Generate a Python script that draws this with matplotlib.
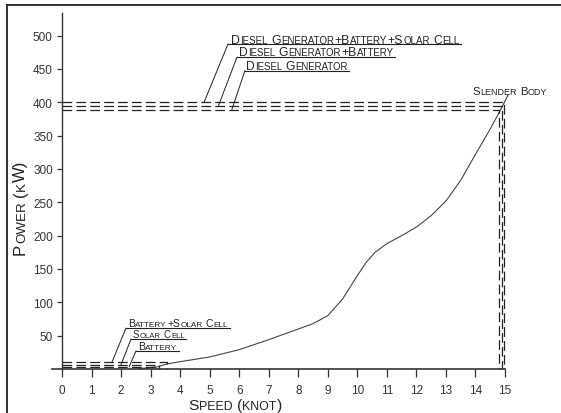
import matplotlib
matplotlib.use('Agg')
import matplotlib.pyplot as plt
from matplotlib.lines import Line2D
from matplotlib import font_manager

# ---------------- data ----------------
speed = [2.6, 3.2, 3.6, 4.0, 5.0, 6.0, 7.0, 8.0, 8.5, 9.0, 9.5, 10.0, 10.3, 10.6,
         11.0, 11.5, 12.0, 12.5, 13.0, 13.5, 14.0, 14.5, 14.9]
power = [0.5, 3, 8, 11, 18, 29, 44, 60, 68, 80, 105, 140, 160, 175,
         188, 200, 213, 230, 252, 283, 322, 360, 393]

gen_labels = ['Diesel Generator+Battery+Solar Cell', 'Diesel Generator+Battery', 'Diesel Generator']
gen_power = [400, 394, 389]
gen_speed = [14.97, 14.9, 14.78]
gen_leader_speed = [4.81, 5.29, 5.75]

low_labels = ['Battery+Solar Cell', 'Solar Cell', 'Battery']
low_power = [10, 6.5, 3]
low_speed = [3.55, 3.3, 3.15]
low_leader_speed = [1.69, 2.0, 2.27]

curve_label = 'Slender Body'
x_ticks = list(range(0, 16))
y_ticks = list(range(50, 550, 50))
x_title = 'Speed (knot)'
y_title = 'Power (kW)'

# ---------------- setup ----------------
W, H, DPI = 561, 414, 100
avail = {f.name for f in font_manager.fontManager.ttflist}
FONT = 'Liberation Sans' if 'Liberation Sans' in avail else 'DejaVu Sans'
plt.rcParams['font.family'] = FONT
plt.rcParams['lines.scale_dashes'] = False

fig = plt.figure(figsize=(W / DPI, H / DPI), dpi=DPI)
fig.patch.set_facecolor('white')
renderer = fig.canvas.get_renderer()

INK = '#222222'
AX = '#333333'


def P(x, y):
    return (x / W, 1 - y / H)


# axes: data x=0 -> px 62, x=15 -> px 505; y=0 -> px 370, top at px 14
xl, xr = -0.35, 15.0
ax_left = 62 + xl * (505 - 62) / 15
ax = fig.add_axes([ax_left / W, (H - 370) / H, (505 - ax_left) / W, (370 - 14) / H])
ax.set_xlim(xl, xr)
ax.set_ylim(0, 534)
ax.patch.set_alpha(0)
for s in ('top', 'right'):
    ax.spines[s].set_visible(False)
ax.spines['left'].set_position(('data', 0))
ax.spines['left'].set_color(AX)
ax.spines['left'].set_linewidth(1.0)
ax.spines['bottom'].set_color(AX)
ax.spines['bottom'].set_linewidth(1.2)
ax.set_xticks(x_ticks)
ax.set_yticks(y_ticks)
ax.tick_params(axis='x', direction='out', length=5.8, width=0.9, pad=5,
               labelsize=8.5, colors=AX)
ax.tick_params(axis='y', direction='out', length=3.6, width=0.9, pad=3,
               labelsize=8.5, colors=AX)

# curve
ax.plot(speed, power, color='#444444', lw=0.8, solid_joinstyle='round')

DASH = (7.0, 3.0)
for V, Pw in zip(gen_speed, gen_power):
    ax.plot([0, V, V], [Pw, Pw, 0], color=INK, lw=0.9, dashes=DASH, clip_on=False)
for V, Pw in zip(low_speed, low_power):
    ax.plot([0, V, V], [Pw, Pw, 0], color=INK, lw=0.9, dashes=DASH, clip_on=False)


# ---------------- small-caps text helper ----------------
def runs_of(s):
    runs = []
    for ch in s:
        if ch == ' ':
            kind = ' '
        elif ch.islower():
            kind = 's'
        else:
            kind = 'B'
        if runs and runs[-1][0] == kind and kind != ' ':
            runs[-1][1] += ch.upper()
        else:
            runs.append([kind, ch.upper()])
    return runs


def sc_text(x, y, s, big, target=None, ratio=0.8, rotation=0, color=INK):
    runs = runs_of(s)

    def build(scale):
        arts = []
        d = 0.0
        for kind, txt in runs:
            size = big * scale * (1 if kind == 'B' else ratio)
            if kind == ' ':
                d += 0.30 * big * scale * ratio * DPI / 72 * len(txt)
                continue
            if rotation == 0:
                t = fig.text(*P(x + d, y), txt, fontsize=size, color=color,
                             ha='left', va='baseline')
            else:
                t = fig.text(*P(x, y - d), txt, fontsize=size, color=color,
                             rotation=90, rotation_mode='anchor',
                             ha='left', va='baseline')
            ext = t.get_window_extent(renderer)
            d += ext.width if rotation == 0 else ext.height
            d += 0.4
            arts.append(t)
        return arts, d

    arts, d = build(1.0)
    if target:
        for a in arts:
            a.remove()
        arts, d = build(target / d)
    return d


def hline(x0, x1, y, lw=0.8):
    fig.add_artist(Line2D([x0 / W, x1 / W], [1 - y / H, 1 - y / H],
                          transform=fig.transFigure, color=INK, lw=lw))


def leader(px, py, dx, dy):
    ax.annotate('', xy=(dx, dy), xycoords='data', xytext=P(px, py),
                textcoords='figure fraction', annotation_clip=False,
                arrowprops=dict(arrowstyle='-', color=INK, lw=0.7,
                                shrinkA=0, shrinkB=0))


# top labels (generators)
gen_text_pos = [(231, 43.5, 231), (239, 56.5, 157), (246, 70, 103)]
gen_under = [(228, 45), (237, 58), (245, 71.5)]
for lab, (tx, ty, tw), (ux, uy), ls, gp in zip(gen_labels, gen_text_pos, gen_under,
                                               gen_leader_speed, gen_power):
    w = sc_text(tx, ty, lab, 8.5, target=tw)
    hline(ux, tx + w + 1, uy)
    leader(ux, uy, ls, gp)

# bottom labels
low_text_pos = [(128, 327.5, 101, 7.5), (133, 338.5, 52, 6.0), (138, 350.5, 40, 7.5)]
low_under = [(126, 329), (131, 340), (136, 352)]
for lab, (tx, ty, tw, fs), (ux, uy), ls, lp in zip(low_labels, low_text_pos, low_under,
                                                   low_leader_speed, low_power):
    w = sc_text(tx, ty, lab, fs, target=tw)
    hline(ux, tx + w + 1, uy)
    leader(ux, uy, ls, lp)

# curve label
sc_text(472, 95, curve_label, 9, target=76)
leader(508, 96, speed[-1], power[-1])

# axis titles
sc_text(188, 410, x_title, 12, target=95)
sc_text(25, 255, y_title, 11, target=95, rotation=90)

# outer frame (left and top edges)
fig.add_artist(Line2D([7 / W, 7 / W], [0, 1 - 6 / H], transform=fig.transFigure,
                      color=INK, lw=1.3))
fig.add_artist(Line2D([7 / W, 1.0], [1 - 6 / H, 1 - 6 / H], transform=fig.transFigure,
                      color=INK, lw=1.3))

fig.savefig('out.png', dpi=DPI)
